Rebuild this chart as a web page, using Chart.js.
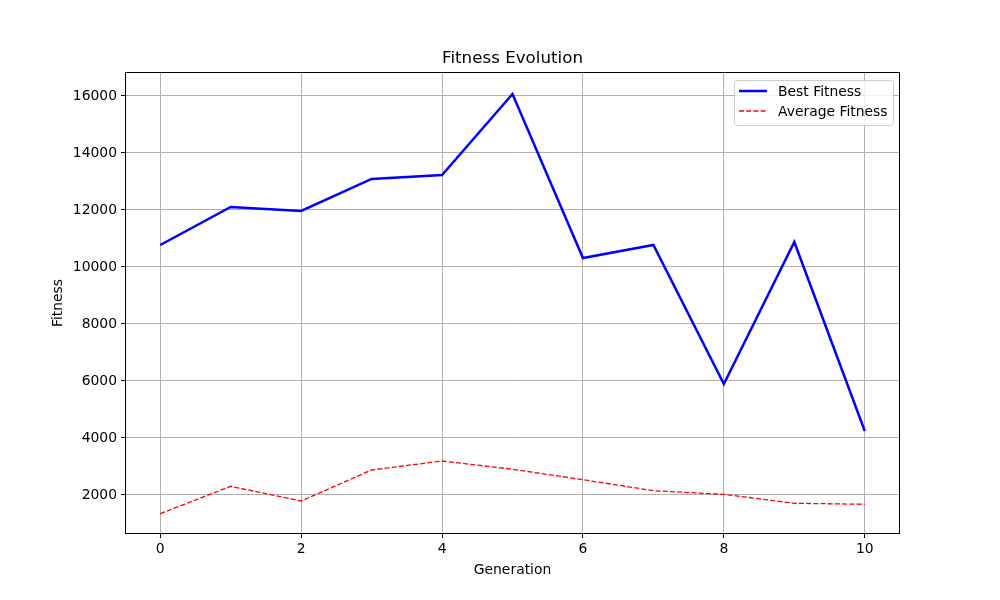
<!DOCTYPE html>
<html>
<head>
<meta charset="utf-8">
<script src="https://cdn.jsdelivr.net/npm/chart.js@4.4.1/dist/chart.umd.min.js"></script>
<style>
  html, body { margin: 0; padding: 0; background: #ffffff; }
  #grafico { display: block; }
</style>
</head>
<body>
<canvas id="grafico" width="1000" height="600"></canvas>
<script>
// Datos
const generaciones = [0, 1, 2, 3, 4, 5, 6, 7, 8, 9, 10];
const mejorFitness = [10772, 12105, 11965, 13088, 13228, 16070, 10315, 10772, 5894, 10877, 4245];
const fitnessPromedio = [1344, 2305, 1789, 2877, 3193, 2902, 2537, 2151, 2023, 1709, 1674];
const ticksX = [0, 2, 4, 6, 8, 10];
const ticksY = [2000, 4000, 6000, 8000, 10000, 12000, 14000, 16000];

const FUENTE = 'DejaVu Sans';

// Titulo, marco del area y leyenda
const extrasPlugin = {
    id: 'extras',
    afterDraw(chart) {
        const ctx = chart.ctx;
        const area = chart.chartArea;
        ctx.save();

        // Marco completo
        ctx.strokeStyle = '#000000';
        ctx.lineWidth = 1;
        ctx.strokeRect(Math.round(area.left) + 0.5, Math.round(area.top) + 0.5,
            Math.round(area.right - area.left) - 1, Math.round(area.bottom - area.top) - 1);

        // Titulo
        ctx.fillStyle = '#000000';
        ctx.font = '16.7px "' + FUENTE + '"';
        ctx.textAlign = 'center';
        ctx.textBaseline = 'middle';
        ctx.fillText('Fitness Evolution', (area.left + area.right) / 2, 59);

        // Leyenda
        const x0 = 734, y0 = 80, w = 159, h = 45;
        ctx.fillStyle = 'rgba(255,255,255,0.8)';
        ctx.strokeStyle = '#cccccc';
        ctx.lineWidth = 1;
        ctx.beginPath();
        ctx.roundRect(x0 + 0.5, y0 + 0.5, w, h, 3);
        ctx.fill();
        ctx.stroke();

        ctx.font = '13.9px "' + FUENTE + '"';
        ctx.textAlign = 'left';
        ctx.textBaseline = 'middle';
        chart.data.datasets.forEach((ds, i) => {
            const yy = 91 + i * 20;
            ctx.strokeStyle = ds.borderColor;
            ctx.lineWidth = ds.borderWidth;
            ctx.setLineDash(ds.borderDash || []);
            ctx.beginPath();
            ctx.moveTo(739, yy);
            ctx.lineTo(767, yy);
            ctx.stroke();
            ctx.setLineDash([]);
            ctx.fillStyle = '#000000';
            ctx.fillText(ds.label, 778, yy + 1);
        });
        ctx.restore();
    }
};

const ctx = document.getElementById('grafico').getContext('2d');

new Chart(ctx, {
    type: 'line',
    data: {
        datasets: [
            {
                label: 'Best Fitness',
                data: generaciones.map((g, i) => ({ x: g, y: mejorFitness[i] })),
                borderColor: '#0000ff',
                borderWidth: 2.5,
                pointRadius: 0,
                tension: 0,
                fill: false
            },
            {
                label: 'Average Fitness',
                data: generaciones.map((g, i) => ({ x: g, y: fitnessPromedio[i] })),
                borderColor: '#ff0000',
                borderWidth: 1.3,
                borderDash: [5, 2.2],
                pointRadius: 0,
                tension: 0,
                fill: false
            }
        ]
    },
    options: {
        responsive: false,
        animation: false,
        devicePixelRatio: 1,
        layout: {
            padding: { top: 72, right: 100, left: 0, bottom: 0 }
        },
        scales: {
            x: {
                type: 'linear',
                min: -0.5,
                max: 10.5,
                afterBuildTicks: (scale) => {
                    scale.ticks = ticksX.map(v => ({ value: v }));
                },
                afterFit: (scale) => { scale.height = 66; },
                grid: {
                    color: '#b0b0b0',
                    lineWidth: 1,
                    tickColor: '#000000',
                    tickLength: 4
                },
                border: { display: false },
                ticks: {
                    color: '#000000',
                    padding: 3,
                    maxRotation: 0,
                    font: { family: FUENTE, size: 13.9 }
                },
                title: {
                    display: true,
                    text: 'Generation',
                    color: '#000000',
                    padding: { top: 0, bottom: 21 },
                    font: { family: FUENTE, size: 13.9 }
                }
            },
            y: {
                type: 'linear',
                min: 631,
                max: 16842,
                afterBuildTicks: (scale) => {
                    scale.ticks = ticksY.map(v => ({ value: v }));
                },
                afterFit: (scale) => { scale.width = 125; },
                grid: {
                    color: '#b0b0b0',
                    lineWidth: 1,
                    tickColor: '#000000',
                    tickLength: 4
                },
                border: { display: false },
                ticks: {
                    color: '#000000',
                    padding: 4,
                    font: { family: FUENTE, size: 13.9 },
                    callback: (value) => String(value)
                },
                title: {
                    display: true,
                    text: 'Fitness',
                    color: '#000000',
                    padding: { top: 50, bottom: 0 },
                    font: { family: FUENTE, size: 13.9 }
                }
            }
        },
        plugins: {
            legend: { display: false },
            title: { display: false },
            tooltip: { enabled: false }
        }
    },
    plugins: [extrasPlugin]
});
</script>
</body>
</html>
